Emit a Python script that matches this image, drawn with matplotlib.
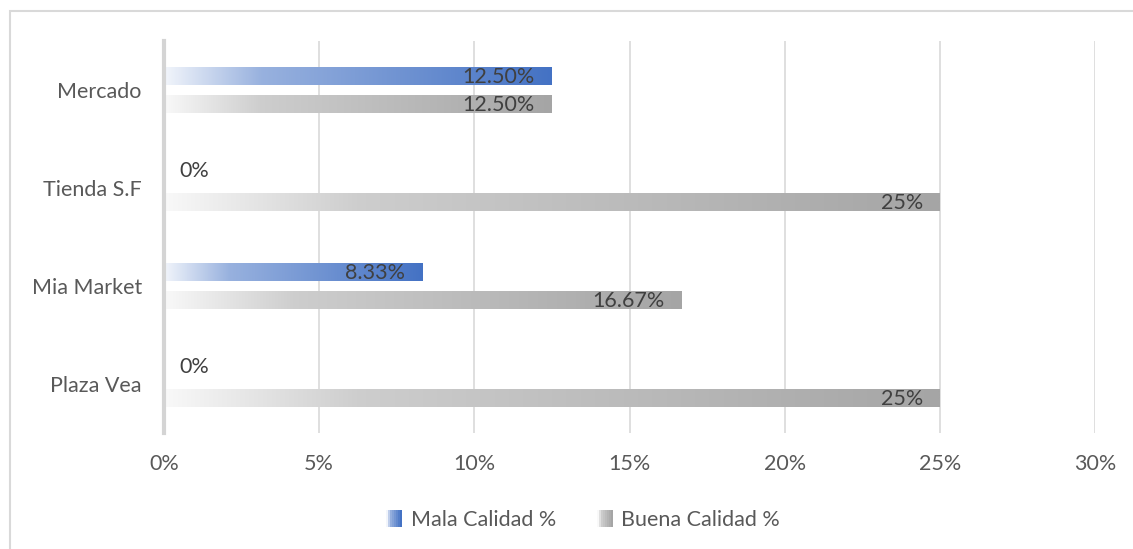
import numpy as np
import matplotlib.pyplot as plt
from matplotlib.patches import Rectangle
from matplotlib.legend_handler import HandlerBase
from matplotlib.colors import to_rgb

plt.rcParams['font.family'] = ['Lato', 'DejaVu Sans']

# datos
tiendas = ['Plaza Vea', 'Mia Market', 'Tienda S.F', 'Mercado']
mala = [0, 8.33, 0, 12.5]
buena = [25, 16.67, 25, 12.5]
etiq_mala = ['0%', '8.33%', '0%', '12.50%']
etiq_buena = ['25%', '16.67%', '25%', '12.50%']

azul = '#4472c4'
gris = '#a5a5a5'
fs = 15.5


def degradado(color, n=256):
    c = np.array(to_rgb(color))
    w = np.ones(3)
    t = np.linspace(0, 1, n)
    # blanco casi puro a la izquierda, color pleno a la derecha
    mezcla = np.interp(t, [0, 0.25, 1], [0.93, 0.45, 0.0])
    fila = w[None, :] * mezcla[:, None] + c[None, :] * (1 - mezcla[:, None])
    return fila[None, :, :]


class HandlerDegradado(HandlerBase):
    def __init__(self, color):
        super().__init__()
        self.color = color

    def create_artists(self, legend, orig_handle, xdescent, ydescent,
                       width, height, fontsize, trans):
        cols = degradado(self.color, 8)[0]
        arts = []
        n = len(cols)
        for i, c in enumerate(cols):
            r = Rectangle((-xdescent + width * i / n, -ydescent), width / n + 0.3, height,
                          facecolor=c, edgecolor='none', transform=trans)
            arts.append(r)
        return arts


fig = plt.figure(figsize=(11.33, 5.49), dpi=100)
ax = fig.add_axes([164 / 1133, 1 - 433 / 549, (1095 - 164) / 1133, (433 - 41) / 549])

# borde del gráfico
fig.patches.append(Rectangle((10 / 1133, -0.1), 1.2, 1 - 11 / 549 + 0.1,
                             transform=fig.transFigure, facecolor='none',
                             edgecolor='#d9d9d9', linewidth=1.5, zorder=0))

h = 0.18
off = 0.14
y = np.arange(len(tiendas))
for i in range(len(tiendas)):
    for val, dy, col, lab in [(mala[i], off, azul, etiq_mala[i]),
                              (buena[i], -off, gris, etiq_buena[i])]:
        yc = y[i] + dy
        if val > 0:
            ax.imshow(degradado(col), extent=[0, val, yc - h / 2, yc + h / 2],
                      aspect='auto', interpolation='bilinear', zorder=2)
            ax.text(val - 0.55, yc - 0.01, lab, ha='right', va='center',
                    fontsize=fs, color='#404040', zorder=3)
        else:
            ax.text(0.5, yc + 0.03, lab, ha='left', va='center',
                    fontsize=fs, color='#404040', zorder=3)

ax.set_xlim(0, 30)
ax.set_ylim(-0.5, 3.5)
ax.set_xticks(np.arange(0, 31, 5))
ax.set_xticklabels([f'{v}%' for v in range(0, 31, 5)])
ax.set_yticks(y)
ax.set_yticklabels(tiendas)
ax.tick_params(axis='both', length=0, labelsize=fs, labelcolor='#595959')
ax.tick_params(axis='x', pad=15)
ax.tick_params(axis='y', pad=16)
ax.grid(axis='x', color='#d9d9d9', linewidth=1.2, zorder=0)
ax.set_axisbelow(True)
for s in ['top', 'right', 'bottom']:
    ax.spines[s].set_visible(False)
ax.spines['left'].set_color('#d4d4d4')
ax.spines['left'].set_linewidth(3)

h1 = Rectangle((0, 0), 1, 1)
h2 = Rectangle((0, 0), 1, 1)
fig.legend([h1, h2], ['Mala Calidad %', 'Buena Calidad %'],
           handler_map={h1: HandlerDegradado(azul), h2: HandlerDegradado(gris)},
           loc='center', bbox_to_anchor=(583 / 1133, 1 - 520 / 549), ncol=2,
           frameon=False, fontsize=fs, labelcolor='#595959',
           handlelength=0.75, handleheight=0.85, handletextpad=0.4, columnspacing=1.9)

fig.savefig('out.png', dpi=100, facecolor='white')
